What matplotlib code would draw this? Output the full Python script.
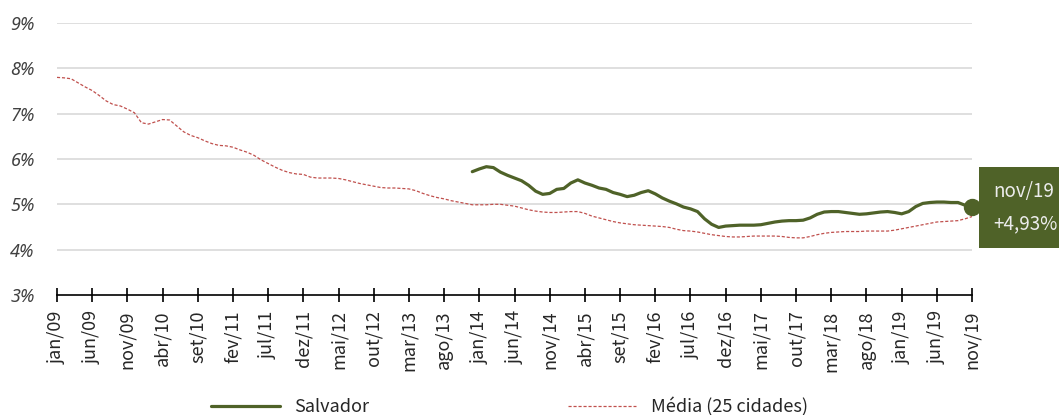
import numpy as np
import matplotlib
matplotlib.use("Agg")
import matplotlib.pyplot as plt

plt.rcParams['font.family'] = ['Noto Sans CJK JP', 'DejaVu Sans']

# month names (pt-BR) and the monthly series, jan/09 .. nov/19
meses = ['jan', 'fev', 'mar', 'abr', 'mai', 'jun', 'jul', 'ago', 'set', 'out', 'nov', 'dez']
ano_inicio = 2009

media = [7.80, 7.79, 7.77, 7.68, 7.59, 7.51, 7.40, 7.28, 7.20, 7.17,
         7.10, 7.02, 6.80, 6.77, 6.82, 6.87, 6.86, 6.73, 6.60, 6.52,
         6.47, 6.40, 6.34, 6.30, 6.29, 6.26, 6.20, 6.15, 6.08, 5.98,
         5.90, 5.82, 5.75, 5.70, 5.67, 5.66, 5.60, 5.58, 5.58, 5.58,
         5.57, 5.54, 5.50, 5.46, 5.43, 5.40, 5.37, 5.36, 5.36, 5.35,
         5.34, 5.30, 5.24, 5.19, 5.15, 5.12, 5.08, 5.05, 5.02, 4.99,
         4.99, 4.99, 5.00, 5.00, 4.98, 4.96, 4.92, 4.88, 4.85, 4.83,
         4.82, 4.82, 4.83, 4.84, 4.84, 4.80, 4.74, 4.70, 4.66, 4.62,
         4.59, 4.57, 4.55, 4.54, 4.53, 4.52, 4.51, 4.49, 4.45, 4.42,
         4.41, 4.39, 4.36, 4.33, 4.31, 4.29, 4.28, 4.28, 4.29, 4.30,
         4.30, 4.30, 4.30, 4.29, 4.27, 4.26, 4.26, 4.29, 4.33, 4.36,
         4.38, 4.39, 4.40, 4.40, 4.40, 4.41, 4.41, 4.41, 4.41, 4.43,
         4.46, 4.49, 4.52, 4.55, 4.58, 4.61, 4.62, 4.63, 4.64, 4.68,
         4.73]

# Salvador starts in dez/13 (month index 59)
salvador_inicio = 59
salvador = [5.72, 5.78, 5.83, 5.81, 5.71, 5.64, 5.58, 5.52, 5.42, 5.29,
            5.22, 5.24, 5.33, 5.35, 5.47, 5.54, 5.47, 5.42, 5.36, 5.33,
            5.26, 5.22, 5.17, 5.20, 5.26, 5.30, 5.23, 5.14, 5.07, 5.01,
            4.94, 4.90, 4.84, 4.68, 4.56, 4.49, 4.52, 4.53, 4.54, 4.54,
            4.54, 4.55, 4.58, 4.61, 4.63, 4.64, 4.64, 4.65, 4.70, 4.78,
            4.83, 4.84, 4.84, 4.82, 4.80, 4.78, 4.79, 4.81, 4.83, 4.84,
            4.82, 4.79, 4.84, 4.95, 5.02, 5.04, 5.05, 5.05, 5.04, 5.04,
            4.98, 4.93]
ultimo_rotulo = ['nov/19', '+4,93%']

verde = '#4f6228'
vermelho = '#c0504d'

x_media = np.arange(len(media))
x_salv = np.arange(salvador_inicio, salvador_inicio + len(salvador))
rotulos = [f"{meses[i % 12]}/{(ano_inicio + i // 12) % 100:02d}" for i in range(len(media))]

fig = plt.figure(figsize=(10.59, 4.15), dpi=100)
ax = fig.add_axes([0.0538, 0.2892, 0.8641, 0.6554])

ax.plot(x_media, media, color=vermelho, lw=0.9, ls=(0, (2.5, 1.5)), label='Média (25 cidades)')
ax.plot(x_salv, salvador, color=verde, lw=2.3, label='Salvador', solid_capstyle='round')
ax.plot(x_salv[-1], salvador[-1], 'o', color=verde, ms=11.5, clip_on=False)

ax.annotate('\n'.join(ultimo_rotulo), xy=(x_salv[-1], salvador[-1]),
            xytext=(15, 0), textcoords='offset points', ha='left', va='center',
            fontsize=13.5, color='#ececec', linespacing=1.7,
            bbox=dict(boxstyle='square,pad=0.72', fc=verde, ec='none'),
            annotation_clip=False)

ax.set_xlim(0, len(media) - 1)
ax.set_ylim(3, 9)
ax.set_yticks(range(3, 10))
ax.set_yticklabels([f"{v}%" for v in range(3, 10)], fontstyle='italic',
                   family=['Noto Sans', 'DejaVu Sans'], color='#404040', fontsize=13)
ax.set_xticks(x_media[::5])
ax.set_xticklabels(rotulos[::5], rotation=90, fontsize=13, color='#262626')
for v in range(4, 10):
    ax.axhline(v, color='#d9d9d9', lw=1.2, zorder=0)

for s in ['left', 'right', 'top']:
    ax.spines[s].set_visible(False)
ax.spines['bottom'].set_color('black')
ax.spines['bottom'].set_linewidth(1.2)
ax.tick_params(axis='x', direction='inout', length=10, width=1.2, pad=6)
ax.tick_params(axis='y', length=0, pad=16)

h, l = ax.get_legend_handles_labels()
fig.legend(h[::-1], l[::-1], loc='center', bbox_to_anchor=(0.481, 0.02), ncol=2,
           frameon=False, fontsize=13, handlelength=3.8, columnspacing=11,
           labelcolor='#262626')

fig.savefig('out.png', dpi=100)
